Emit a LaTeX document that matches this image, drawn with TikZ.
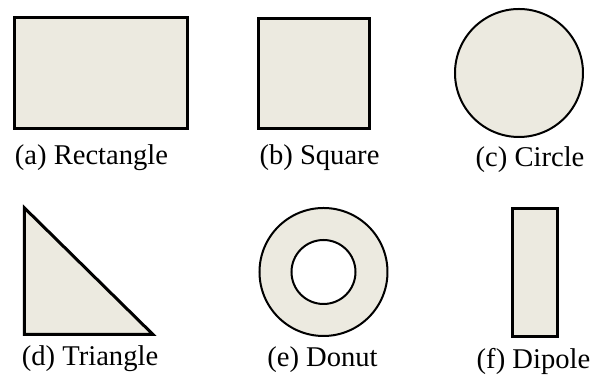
\documentclass[tikz,border=0pt]{standalone}
\usepackage{fontspec}
\setmainfont{Liberation Serif}
\usepackage{tikz}
\usetikzlibrary{positioning}
\definecolor{shapefill}{RGB}{236,234,224}

\begin{document}
\begin{tikzpicture}[
    x=0.5pt, y=-0.5pt,
    % Styles
    shapebox/.style={rectangle, draw=black, fill=shapefill, line width=1.5pt, inner sep=0pt},
    shapedisc/.style={circle, draw=black, fill=shapefill, line width=1pt, inner sep=0pt},
    caption/.style={anchor=base, inner sep=0pt, font=\fontsize{14.3}{16}\selectfont}
]
\useasboundingbox (0,0) rectangle (602,378);

% ROW 1
\node[shapebox, minimum width=86.5pt, minimum height=55.5pt] (rect) at (101,73) {};
\node[shapebox, minimum width=55.5pt, minimum height=55pt] (square) at (314,73.5) {};
\node[shapedisc, minimum size=64pt] (circ) at (519,73) {};

\node[caption] (rect_lbl) at (91.5,165) {(a) Rectangle};
\node[caption] (square_lbl) at (319.5,165) {(b) Square};
\node[caption] (circ_lbl) at (530,167) {(c) Circle};

% ROW 2
\draw[draw=black, fill=shapefill, line width=1.5pt] (24.5,208) -- (24.5,334.5) -- (153,334.5) -- cycle;
\coordinate (donut) at (323.5,272);
\draw[draw=black, fill=shapefill, line width=1pt, even odd rule] (donut) circle (32pt) (donut) circle (16pt);
\node[shapebox, minimum width=22.5pt, minimum height=64pt] (dipole) at (535,272.5) {};

\node[caption] (tri_lbl) at (90,366) {(d) Triangle};
\node[caption] (donut_lbl) at (322.5,367) {(e) Donut};
\node[caption] (dipole_lbl) at (533.5,369) {(f) Dipole};

\end{tikzpicture}
\end{document}
